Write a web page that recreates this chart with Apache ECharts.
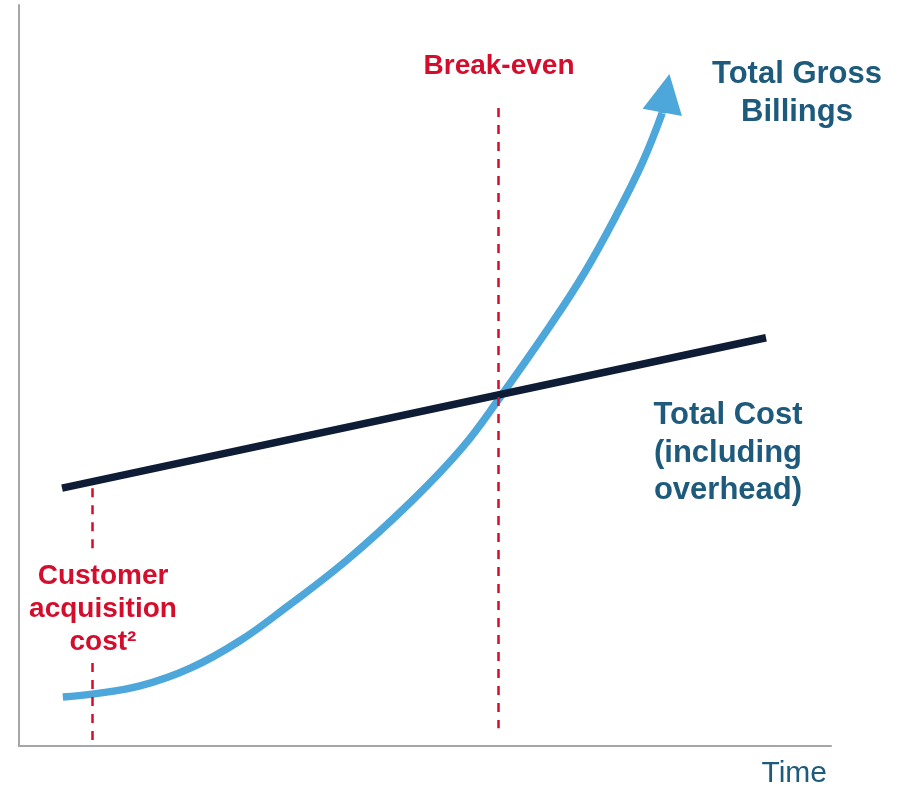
<!DOCTYPE html>
<html>
<head>
<meta charset="utf-8">
<script src="https://cdn.jsdelivr.net/npm/echarts@6/dist/echarts.min.js"></script>
<style>
  html, body { margin: 0; padding: 0; background: #ffffff; }
  #chart { width: 902px; height: 790px; }
</style>
</head>
<body>
<div id="chart"></div>
<script>
// Time runs 0..100 along the x axis, money 0..100 up the y axis.
const billingsTime  = [5.4, 9.0, 14.9, 21.1, 27.2, 33.0, 40.4, 48.5, 54.7, 59.2, 65.4, 69.6, 73.5, 76.8, 79.2];
const billingsValue = [6.6, 7.0, 8.1, 10.5, 14.2, 18.8, 25.1, 33.2, 40.4, 47.0, 56.7, 63.8, 71.5, 78.8, 85.4];
// where the arrowhead of the billings curve sits
const arrowHead = [79.66, 88.1];

const costTime  = [5.3, 92.0];
const costValue = [34.8, 55.1];

// customer acquisition cost marker (broken where its label sits) and break-even marker
const cacTime = 9.0;
const cacSegments = [[34.8, 26.7], [11.2, 0]];
const breakEvenTime = 59.0;
const breakEvenRange = [86.1, 2.4];

const RED = '#D50D2C';
const TEAL = '#1D5A7C';
const BLUE = '#4DA7DA';
const NAVY = '#0F1C36';
const FONT = '"Liberation Sans", Arial, Helvetica, sans-serif';

const zip = (xs, ys) => xs.map((x, i) => [x, ys[i]]);

const chart = echarts.init(document.getElementById('chart'), null, { renderer: 'canvas' });

const axisBase = {
  type: 'value',
  min: 0,
  max: 100,
  axisLine: { show: true, lineStyle: { color: '#A6A6A6', width: 2 } },
  axisTick: { show: false },
  axisLabel: { show: false },
  splitLine: { show: false }
};

const dashed = { color: RED, width: 2.5, type: [9, 8] };

chart.setOption({
  animation: false,
  grid: { left: 19, right: 71, top: 5, bottom: 44 },
  xAxis: axisBase,
  yAxis: axisBase,
  series: [
    {
      name: 'Total Gross Billings',
      type: 'line',
      z: 2,
      data: zip(billingsTime, billingsValue),
      smooth: 0.4,
      symbol: 'none',
      silent: true,
      lineStyle: { color: BLUE, width: 7.5, cap: 'butt' },
      markLine: {
        silent: true,
        symbol: ['none', 'triangle'],
        symbolSize: [40, 39],
        label: { show: false },
        lineStyle: { color: BLUE, width: 7.5, type: 'solid' },
        itemStyle: { color: BLUE },
        data: [[
          { coord: [billingsTime[billingsTime.length - 1], billingsValue[billingsValue.length - 1]] },
          { coord: arrowHead }
        ]]
      }
    },
    {
      name: 'Total Cost',
      type: 'line',
      z: 3,
      data: zip(costTime, costValue),
      symbol: 'none',
      silent: true,
      lineStyle: { color: NAVY, width: 7.5 }
    },
    {
      name: 'markers',
      type: 'line',
      z: 4,
      data: [],
      silent: true,
      markLine: {
        silent: true,
        symbol: ['none', 'none'],
        label: { show: false },
        lineStyle: dashed,
        data: [
          ...cacSegments.map(s => [{ coord: [cacTime, s[0]] }, { coord: [cacTime, s[1]] }]),
          [{ coord: [breakEvenTime, breakEvenRange[0]] }, { coord: [breakEvenTime, breakEvenRange[1]] }]
        ]
      }
    }
  ],
  graphic: [
    {
      type: 'text', x: 499, y: 66,
      style: { text: 'Break-even', font: 'bold 28px ' + FONT, fill: RED, textAlign: 'center', textVerticalAlign: 'middle' }
    },
    {
      type: 'text', x: 797, y: 93.5,
      style: { text: 'Total Gross\nBillings', font: 'bold 31px ' + FONT, fill: TEAL, lineHeight: 38.5, textAlign: 'center', textVerticalAlign: 'middle' }
    },
    {
      type: 'text', x: 728, y: 453,
      style: { text: 'Total Cost\n(including\noverhead)', font: 'bold 31px ' + FONT, fill: TEAL, lineHeight: 37.5, textAlign: 'center', textVerticalAlign: 'middle' }
    },
    {
      type: 'text', x: 103, y: 609,
      style: { text: 'Customer\nacquisition\ncost²', font: 'bold 28px ' + FONT, fill: RED, lineHeight: 33, textAlign: 'center', textVerticalAlign: 'middle' }
    },
    {
      type: 'text', x: 827, y: 774,
      style: { text: 'Time', font: '30px ' + FONT, fill: TEAL, textAlign: 'right', textVerticalAlign: 'middle' }
    }
  ]
});
</script>
</body>
</html>
